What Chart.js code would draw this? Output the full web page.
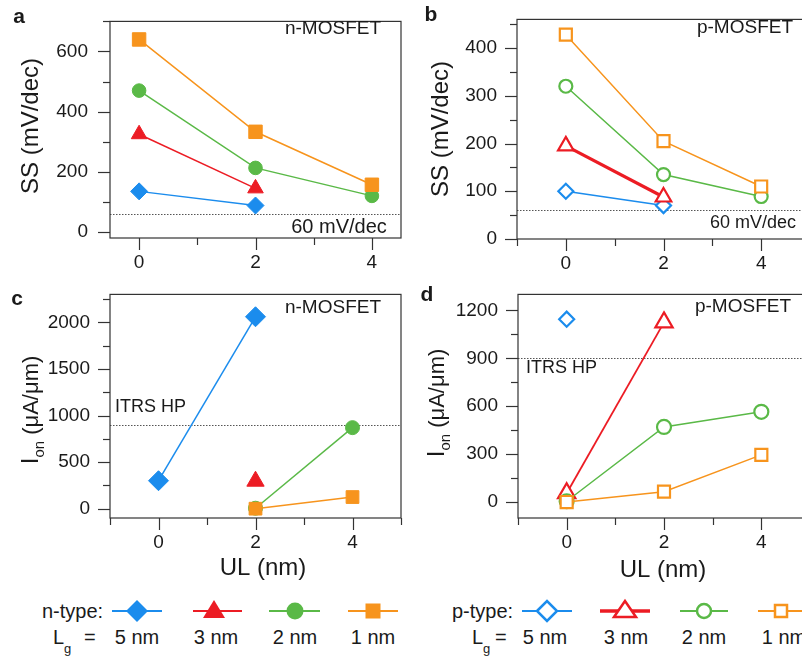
<!DOCTYPE html>
<html>
<head>
<meta charset="utf-8">
<script src="https://cdn.jsdelivr.net/npm/chart.js@4.4.1/dist/chart.umd.min.js"></script>
<style>
  html, body { margin: 0; padding: 0; background: #fff; width: 802px; height: 656px; overflow: hidden; position: relative; }
  canvas { position: absolute; }
  #legend { position: absolute; left: 0; top: 585px; }
  #legend text { font-family: "Liberation Sans", Arial, sans-serif; fill: #1a1a1a; }
</style>
</head>
<body>
<canvas id="pa" width="403" height="275" style="left:0;top:0"></canvas>
<canvas id="pb" width="412" height="275" style="left:402px;top:0"></canvas>
<canvas id="pc" width="403" height="310" style="left:0;top:275px"></canvas>
<canvas id="pd" width="412" height="310" style="left:402px;top:275px"></canvas>

<svg id="legend" width="802" height="71" xmlns="http://www.w3.org/2000/svg">
  <!-- n-type row -->
  <text x="42" y="33" font-size="20">n-type:</text>
  <line x1="112" y1="26" x2="162" y2="26" stroke="#1b8ced" stroke-width="2"/>
  <polygon points="126,26 137,15 148,26 137,37" fill="#1b8ced"/>
  <line x1="193" y1="26" x2="242" y2="26" stroke="#ec1c24" stroke-width="2"/>
  <polygon points="203,33 214,15 225,33" fill="#ec1c24"/>
  <line x1="269" y1="26" x2="320" y2="26" stroke="#5ab947" stroke-width="2"/>
  <circle cx="295" cy="26" r="8.5" fill="#5ab947"/>
  <line x1="348" y1="26" x2="398" y2="26" stroke="#f7941d" stroke-width="2"/>
  <rect x="365.5" y="18.5" width="15" height="15" fill="#f7941d"/>
  <text x="53" y="59" font-size="20">L</text>
  <text x="64" y="68" font-size="13">g</text>
  <text x="84" y="59" font-size="20">=</text>
  <text x="137" y="59" font-size="20" text-anchor="middle">5 nm</text>
  <text x="216" y="59" font-size="20" text-anchor="middle">3 nm</text>
  <text x="295" y="59" font-size="20" text-anchor="middle">2 nm</text>
  <text x="373" y="59" font-size="20" text-anchor="middle">1 nm</text>
  <!-- p-type row -->
  <text x="452" y="33" font-size="20">p-type:</text>
  <line x1="522" y1="26" x2="572" y2="26" stroke="#1b8ced" stroke-width="2"/>
  <polygon points="537,26 547,16 557,26 547,36" fill="#fff" stroke="#1b8ced" stroke-width="2.5"/>
  <line x1="600" y1="26" x2="650" y2="26" stroke="#ec1c24" stroke-width="3.5"/>
  <polygon points="614,32 625,16 636,32" fill="#fff" stroke="#ec1c24" stroke-width="2.5"/>
  <line x1="680" y1="26" x2="728" y2="26" stroke="#5ab947" stroke-width="2"/>
  <circle cx="704" cy="26" r="7" fill="#fff" stroke="#5ab947" stroke-width="2.5"/>
  <line x1="758" y1="26" x2="806" y2="26" stroke="#f7941d" stroke-width="2"/>
  <rect x="775" y="20" width="12" height="12" fill="#fff" stroke="#f7941d" stroke-width="2.5"/>
  <text x="472" y="59" font-size="20">L</text>
  <text x="483" y="68" font-size="13">g</text>
  <text x="495" y="59" font-size="20">=</text>
  <text x="545" y="59" font-size="20" text-anchor="middle">5 nm</text>
  <text x="626" y="59" font-size="20" text-anchor="middle">3 nm</text>
  <text x="704" y="59" font-size="20" text-anchor="middle">2 nm</text>
  <text x="784" y="59" font-size="20" text-anchor="middle">1 nm</text>
</svg>

<script>
// ---------- data ----------
const UL = [0, 2, 4];              // underlap, nm

// SS (mV/dec), n-type, Lg = 5/3/2/1 nm
const ssN5 = [135, 88, null];
const ssN3 = [325, 145, null];
const ssN2 = [470, 213, 120];
const ssN1 = [640, 333, 157];
// SS (mV/dec), p-type
const ssP5 = [100, 70, null];
const ssP3 = [195, 88, null];
const ssP2 = [320, 135, 89];
const ssP1 = [428, 205, 110];
// Ion (uA/um), n-type
const ionN5 = [300, 2060, null];
const ionN3 = [null, 295, null];
const ionN2 = [null, 5, 870];
const ionN1 = [null, 0, 125];
// Ion (uA/um), p-type
const ionP5 = [1145, null, null];
const ionP3 = [55, 1125, null];
const ionP2 = [5, 470, 565];
const ionP1 = [0, 65, 295];

const SS_LIMIT = 60;     // mV/dec
const ITRS_HP = 900;     // uA/um

const BLUE = '#1b8ced', RED = '#ec1c24', GREEN = '#5ab947', ORANGE = '#f7941d';
const INK = '#1a1a1a';
const FONT = '"Liberation Sans", Arial, sans-serif';

Chart.defaults.font.family = FONT;
Chart.defaults.color = INK;

function pts(vals) {
  return UL.map((x, i) => ({ x, y: vals[i] }));
}

function series(vals, color, style, r, lw, open, order) {
  return {
    data: pts(vals),
    borderColor: color,
    backgroundColor: open ? '#fff' : color,
    pointBackgroundColor: open ? '#fff' : color,
    pointBorderColor: color,
    pointBorderWidth: open ? 2.2 : 1,
    pointStyle: style,
    pointRadius: r,
    borderWidth: lw,
    tension: 0,
    spanGaps: false,
    order,
  };
}

// only the labelled (major) values get a tick object
function majorTicks(min, max, step) {
  const out = [];
  for (let k = Math.ceil(min / step - 1e-9); k * step <= max + 1e-9; k++) out.push({ value: k * step });
  return out;
}

// frame, ticks, reference line, labels
function decor(cfg) {
  return {
    id: 'decor',
    beforeDatasetsDraw(chart) {
      const { ctx, chartArea: a, scales } = chart;
      const y = scales.y.getPixelForValue(cfg.ref);
      ctx.save();
      ctx.strokeStyle = '#555';
      ctx.lineWidth = 1;
      ctx.setLineDash([1.5, 1.5]);
      ctx.beginPath();
      ctx.moveTo(a.left, Math.round(y) + 0.5);
      ctx.lineTo(a.right, Math.round(y) + 0.5);
      ctx.stroke();
      ctx.restore();
    },
    afterDraw(chart) {
      const { ctx, chartArea: a, scales } = chart;
      ctx.save();
      ctx.strokeStyle = '#333';
      ctx.lineWidth = 1.2;
      ctx.strokeRect(a.left, a.top, a.right - a.left, a.bottom - a.top);

      // ticks, major longer than minor
      const drawTicks = (scale, minor, major, horiz) => {
        const k0 = Math.ceil(scale.min / minor - 1e-9);
        const k1 = Math.floor(scale.max / minor + 1e-9);
        for (let k = k0; k <= k1; k++) {
          const v = k * minor;
          const isMaj = Math.abs(v / major - Math.round(v / major)) < 1e-6;
          const len = isMaj ? 12 : 7;
          const p = Math.round(scale.getPixelForValue(v)) + 0.5;
          ctx.beginPath();
          if (horiz) { ctx.moveTo(p, a.bottom); ctx.lineTo(p, a.bottom + len); }
          else { ctx.moveTo(a.left - len, p); ctx.lineTo(a.left, p); }
          ctx.stroke();
        }
      };
      drawTicks(scales.x, 1, 2, true);
      drawTicks(scales.y, cfg.yMinor, cfg.yMajor, false);

      ctx.fillStyle = INK;
      // panel letter
      ctx.font = 'bold 21px ' + FONT;
      ctx.textAlign = 'center';
      ctx.textBaseline = 'middle';
      ctx.fillText(cfg.letter[0], cfg.letter[1], cfg.letter[2]);

      // annotations
      cfg.notes.forEach(n => {
        ctx.font = n.size + 'px ' + FONT;
        ctx.textAlign = n.align || 'center';
        ctx.fillText(n.text, n.x, n.y);
      });

      // y title (rotated)
      ctx.save();
      ctx.translate(cfg.yTitle.x, cfg.yTitle.y);
      ctx.rotate(-Math.PI / 2);
      ctx.textBaseline = 'alphabetic';
      ctx.textAlign = 'left';
      const parts = cfg.yTitle.parts;
      let w = 0;
      parts.forEach(p => { ctx.font = p.size + 'px ' + FONT; p.w = ctx.measureText(p.text).width; w += p.w; });
      let x0 = -w / 2;
      parts.forEach(p => {
        ctx.font = p.size + 'px ' + FONT;
        ctx.fillText(p.text, x0, 8 + (p.dy || 0));
        x0 += p.w;
      });
      ctx.restore();

      if (cfg.xTitle) {
        ctx.font = '24px ' + FONT;
        ctx.textAlign = 'center';
        ctx.textBaseline = 'middle';
        ctx.fillText(cfg.xTitle.text, cfg.xTitle.x, cfg.xTitle.y);
      }
      ctx.restore();
    }
  };
}

function panel(id, datasets, cfg) {
  return new Chart(document.getElementById(id), {
    type: 'line',
    data: { datasets },
    plugins: [decor(cfg)],
    options: {
      responsive: false,
      animation: false,
      devicePixelRatio: 1,
      layout: { autoPadding: false, padding: { top: cfg.area.top, right: cfg.area.right, left: 0, bottom: 0 } },
      plugins: { legend: { display: false }, tooltip: { enabled: false } },
      scales: {
        x: {
          type: 'linear',
          min: cfg.xMin, max: cfg.xMax,
          ticks: { autoSkip: false, maxRotation: 0, padding: 1, font: { size: 19 }, color: INK, callback: v => String(v) },
          afterBuildTicks: s => { s.ticks = majorTicks(cfg.xMin, cfg.xMax, 2); },
          grid: { display: true, drawOnChartArea: false, drawTicks: true, tickLength: 12, color: 'rgba(0,0,0,0)' },
          border: { display: false },
          afterFit: s => { s.height = cfg.area.xh; },
        },
        y: {
          min: cfg.yMin, max: cfg.yMax,
          ticks: { autoSkip: false, padding: cfg.area.ypad, font: { size: 19 }, color: INK, callback: v => String(v) },
          afterBuildTicks: s => { s.ticks = majorTicks(cfg.yMin, cfg.yMax, cfg.yMajor); },
          grid: { display: true, drawOnChartArea: false, drawTicks: true, tickLength: 12, color: 'rgba(0,0,0,0)' },
          border: { display: false },
          afterFit: s => { s.width = cfg.area.left; },
        },
      },
    },
  });
}

const ssTitle = [{ text: 'SS (mV/dec)', size: 24 }];
const ionTitle = [
  { text: 'I', size: 24 },
  { text: 'on', size: 15, dy: 6 },
  { text: ' (\u03bcA/\u03bcm)', size: 22 },
];

// a: n-MOSFET SS
panel('pa', [
  series(ssN5, BLUE, 'rectRot', 8.5, 1.5, false, 3),
  series(ssN3, RED, 'triangle', 9, 1.5, false, 2),
  series(ssN2, GREEN, 'circle', 6.8, 1.5, false, 1),
  series(ssN1, ORANGE, 'rect', 9.5, 1.5, false, 0),
], {
  area: { left: 110, top: 5, right: 2, xh: 37, ypad: 10 },
  xMin: -0.5, xMax: 4.5, yMin: -20, yMax: 700, yMajor: 200, yMinor: 100,
  ref: SS_LIMIT,
  letter: ['a', 19, 17],
  notes: [
    { text: 'n-MOSFET', x: 333, y: 29, size: 19 },
    { text: '60 mV/dec', x: 339, y: 227, size: 20 },
  ],
  yTitle: { x: 30, y: 126, parts: ssTitle },
});

// b: p-MOSFET SS
panel('pb', [
  series(ssP5, BLUE, 'rectRot', 7.5, 1.5, true, 3),
  series(ssP3, RED, 'triangle', 9, 3.2, true, 2),
  series(ssP2, GREEN, 'circle', 6.5, 1.5, true, 1),
  series(ssP1, ORANGE, 'rect', 8.5, 1.5, true, 0),
], {
  area: { left: 115, top: 5, right: 4, xh: 36, ypad: 8 },
  xMin: -1, xMax: 5, yMin: 0, yMax: 460, yMajor: 100, yMinor: 50,
  ref: SS_LIMIT,
  letter: ['b', 29, 15],
  notes: [
    { text: 'p-MOSFET', x: 343, y: 28, size: 19 },
    { text: '60 mV/dec', x: 351, y: 223, size: 18 },
  ],
  yTitle: { x: 38, y: 129, parts: ssTitle },
});

// c: n-MOSFET Ion
panel('pc', [
  series(ionN5, BLUE, 'rectRot', 10, 1.5, false, 3),
  series(ionN3, RED, 'triangle', 10, 1.5, false, 2),
  series(ionN2, GREEN, 'circle', 7, 1.5, false, 1),
  series(ionN1, ORANGE, 'rect', 9, 1.5, false, 0),
], {
  area: { left: 110, top: 10, right: 2, xh: 67, ypad: 8 },
  xMin: -1, xMax: 5, yMin: -100, yMax: 2300, yMajor: 500, yMinor: 250,
  ref: ITRS_HP,
  letter: ['c', 17, 24],
  notes: [
    { text: 'n-MOSFET', x: 333, y: 33, size: 19 },
    { text: 'ITRS HP', x: 115, y: 132, size: 18, align: 'left' },
  ],
  yTitle: { x: 30, y: 135, parts: ionTitle },
  xTitle: { text: 'UL (nm)', x: 263, y: 293 },
});

// d: p-MOSFET Ion
panel('pd', [
  series(ionP5, BLUE, 'rectRot', 7.5, 1.5, true, 3),
  series(ionP3, RED, 'triangle', 10, 1.8, true, 2),
  series(ionP2, GREEN, 'circle', 7, 1.5, true, 1),
  series(ionP1, ORANGE, 'rect', 8.5, 1.5, true, 0),
], {
  area: { left: 116, top: 10, right: 4, xh: 67, ypad: 8 },
  xMin: -1, xMax: 5, yMin: -100, yMax: 1300, yMajor: 300, yMinor: 150,
  ref: ITRS_HP,
  letter: ['d', 25, 20],
  notes: [
    { text: 'p-MOSFET', x: 341, y: 32, size: 19 },
    { text: 'ITRS HP', x: 124, y: 93, size: 18, align: 'left' },
  ],
  yTitle: { x: 34, y: 128, parts: ionTitle },
  xTitle: { text: 'UL (nm)', x: 261, y: 295 },
});
</script>
</body>
</html>
